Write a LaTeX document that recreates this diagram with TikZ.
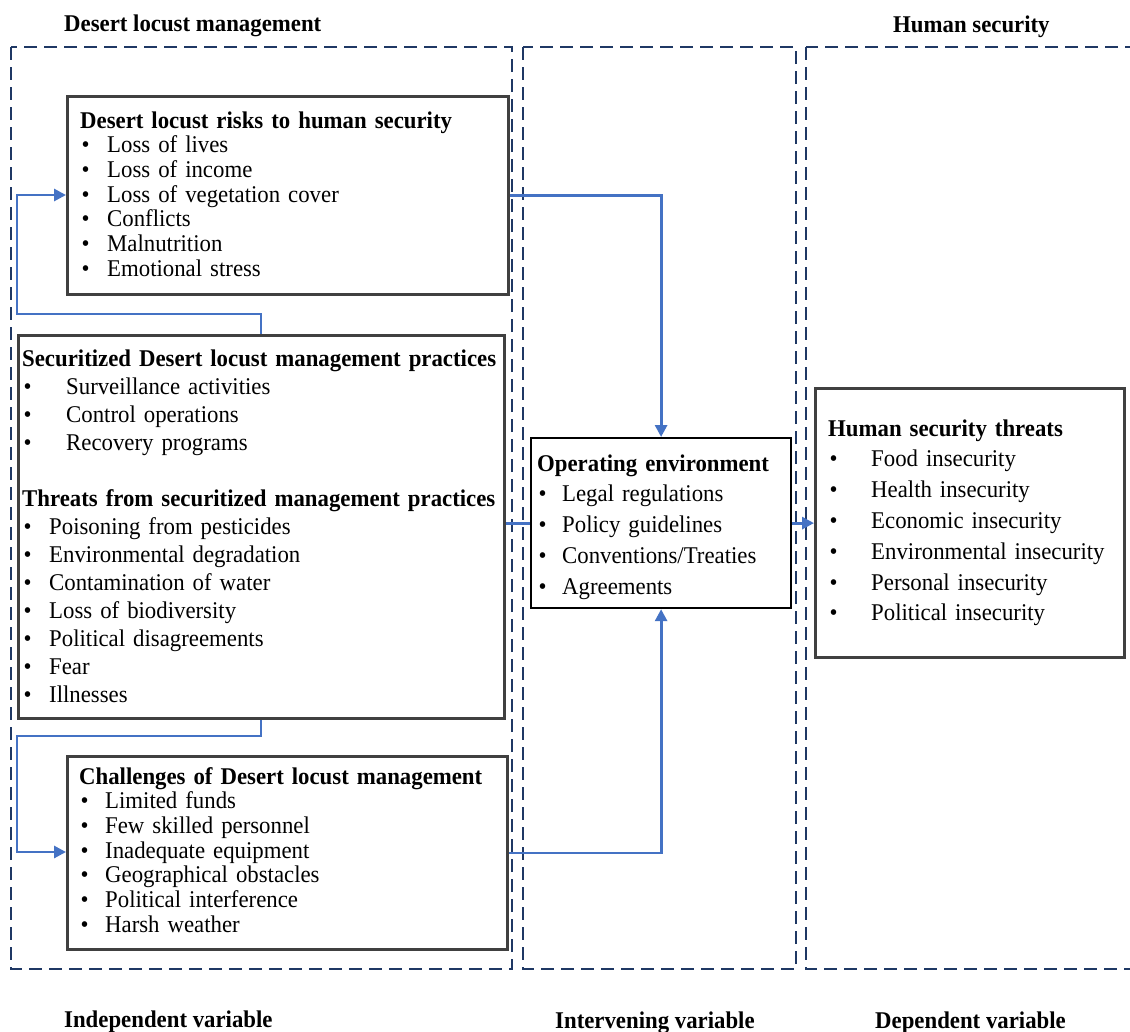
\documentclass[tikz,border=0pt]{standalone}
\usepackage{fontspec}
\setmainfont{Liberation Serif}[FakeStretch=0.95]
\usetikzlibrary{arrows.meta}
\definecolor{linkblue}{HTML}{4472C4}
\definecolor{navy}{HTML}{1F3864}
\definecolor{boxgray}{HTML}{404040}
\newcommand{\itm}[2]{\makebox[#1][l]{\hspace{1.5pt}\textbullet}#2}
\begin{document}
\begin{tikzpicture}[x=1pt,y=-1pt,
  region/.style={draw=navy, line width=1.9pt, dash pattern=on 13pt off 7pt},
  panel/.style={draw=boxgray, line width=3pt, anchor=north west, inner sep=0pt},
  body/.style={anchor=base west, inner sep=0pt, align=left, text width=#1},
  link/.style={draw=linkblue, line width=2.9pt},
  flow/.style={link, -{Triangle[length=12pt,width=12pt]}},
  heading/.style={anchor=base west, inner sep=0pt, font=\bfseries\fontsize{24}{26}\selectfont}
]
\useasboundingbox (0,0) rectangle (1130,1031);
\clip (0,0) rectangle (1130,1031);

% dashed regions
\draw[region] (11,47) rectangle (512,969);
\draw[region] (523,47) rectangle (796,969);
\draw[region] (806,47) rectangle (1150,969);

% headings
\node[heading] (h1) at (64,31) {Desert locust management};
\node[heading] (h2) at (893,32) {Human security};
\node[heading] (h3) at (64,1027) {Independent variable};
\node[heading] (h4) at (555,1028) {Intervening variable};
\node[heading] (h5) at (875,1028) {Dependent variable};

% boxes
\node[panel, minimum width=441pt, minimum height=198pt] (risk) at (66,95) {};
\node[panel, minimum width=486pt, minimum height=383pt] (secur) at (17,334) {};
\node[panel, minimum width=440pt, minimum height=193pt] (chal) at (66,755) {};
\node[panel, draw=black, line width=2.2pt, minimum width=260pt, minimum height=170pt] (oe) at (530,437) {};
\node[panel, minimum width=309pt, minimum height=269pt] (hs) at (814,387) {};

% texts
\node[body=420pt, font=\fontsize{24}{24.7}\selectfont] (risktxt) at (80,128) {%
\textbf{Desert locust risks to human security}\\
\itm{27pt}{Loss of lives}\\
\itm{27pt}{Loss of income}\\
\itm{27pt}{Loss of vegetation cover}\\
\itm{27pt}{Conflicts}\\
\itm{27pt}{Malnutrition}\\
\itm{27pt}{Emotional stress}};

\node[body=520pt, font=\fontsize{24}{28}\selectfont] (sectxt) at (22,366) {%
\textbf{Securitized Desert locust management practices}\\
\itm{44pt}{Surveillance activities}\\
\itm{44pt}{Control operations}\\
\itm{44pt}{Recovery programs}\\[28pt]
\textbf{Threats from securitized management practices}\\
\itm{27pt}{Poisoning from pesticides}\\
\itm{27pt}{Environmental degradation}\\
\itm{27pt}{Contamination of water}\\
\itm{27pt}{Loss of biodiversity}\\
\itm{27pt}{Political disagreements}\\
\itm{27pt}{Fear}\\
\itm{27pt}{Illnesses}};

\node[body=420pt, font=\fontsize{24}{24.7}\selectfont] (chaltxt) at (79,784) {%
\textbf{Challenges of Desert locust management}\\
\itm{26pt}{Limited funds}\\
\itm{26pt}{Few skilled personnel}\\
\itm{26pt}{Inadequate equipment}\\
\itm{26pt}{Geographical obstacles}\\
\itm{26pt}{Political interference}\\
\itm{26pt}{Harsh weather}};

\node[body=250pt, font=\fontsize{24}{30.8}\selectfont] (oetxt) at (537,471) {%
\textbf{Operating environment}\\
\itm{25pt}{Legal regulations}\\
\itm{25pt}{Policy guidelines}\\
\itm{25pt}{Conventions/Treaties}\\
\itm{25pt}{Agreements}};

\node[body=300pt, font=\fontsize{24}{30.8}\selectfont] (hstxt) at (828,436) {%
\textbf{Human security threats}\\
\itm{43pt}{Food insecurity}\\
\itm{43pt}{Health insecurity}\\
\itm{43pt}{Economic insecurity}\\
\itm{43pt}{Environmental insecurity}\\
\itm{43pt}{Personal insecurity}\\
\itm{43pt}{Political insecurity}};

% connectors
\coordinate (up1) at (261,314);
\coordinate (up2) at (17,314);
\coordinate (up3) at (17,195);
\coordinate (dn1) at (261,736);
\coordinate (dn2) at (17,736);
\coordinate (dn3) at (17,852);

\draw[flow] (up1 |- secur.north) -- (up1) -- (up2) -- (up3) -- (up3 -| risk.west);
\draw[flow] (risk.east) -| (oe.north);
\draw[link] (oe.west -| secur.east) -- (oe.west);
\draw[flow] (oe.east) -- (oe.east -| hs.west);
\draw[flow] (dn1 |- secur.south) -- (dn1) -- (dn2) -- (dn3) -- (dn3 -| chal.west);
\draw[flow] (chal.east) -| (oe.south);
\end{tikzpicture}
\end{document}
